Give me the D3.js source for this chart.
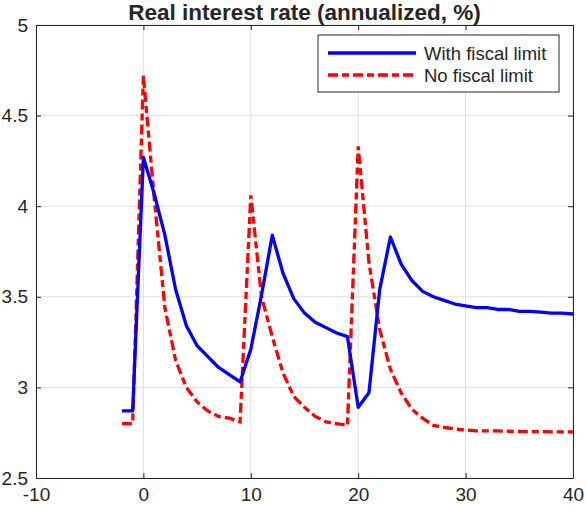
<!DOCTYPE html>
<html>
<head>
<meta charset="utf-8">
<script src="https://cdn.jsdelivr.net/npm/d3@7"></script>
<style>
  body { margin: 0; background: #fff; }
  text { font-family: "Liberation Sans", Arial, sans-serif; fill: #262626; }
</style>
</head>
<body>
<script>
// data
var periods = d3.range(-2, 41);     // -2 .. 40
var withLimit = [2.87, 2.87, 4.27, 4.07, 3.84, 3.54, 3.34, 3.23, 3.17, 3.11, 3.07, 3.03,
  3.21, 3.51, 3.84, 3.63, 3.49, 3.41, 3.36, 3.33, 3.30, 3.28,
  2.89, 2.97, 3.54, 3.83, 3.68, 3.59, 3.53, 3.50, 3.48, 3.46, 3.45,
  3.44, 3.44, 3.43, 3.43, 3.42, 3.42, 3.415, 3.41, 3.41, 3.405];
var noLimit = [2.80, 2.80, 4.72, 4.05, 3.44, 3.15, 3.00, 2.92, 2.87, 2.84, 2.83, 2.81,
  4.06, 3.50, 3.28, 3.08, 2.95, 2.89, 2.84, 2.81, 2.80, 2.79,
  4.33, 3.69, 3.32, 3.10, 2.97, 2.88, 2.83, 2.79, 2.78, 2.77, 2.765,
  2.76, 2.76, 2.76, 2.758, 2.757, 2.756, 2.756, 2.755, 2.755, 2.755];
var xTicks = [-10, 0, 10, 20, 30, 40];
var yTicks = [2.5, 3, 3.5, 4, 4.5, 5];
var seriesNames = ["With fiscal limit", "No fiscal limit"];

var outerWidth = 586, outerHeight = 505;
var margin = { top: 25, right: 13, bottom: 27, left: 36 };
var width = outerWidth - margin.left - margin.right,
  height = outerHeight - margin.top - margin.bottom;

var x = d3.scaleLinear().domain([-10, 40]).range([0, width]);
var y = d3.scaleLinear().domain([2.5, 5]).range([height, 0]);

var svg = d3.select("body").append("svg")
  .attr("width", outerWidth)
  .attr("height", outerHeight);

var g = svg.append("g")
  .attr("transform", "translate(" + margin.left + "," + margin.top + ")");

// grid
g.selectAll(".gx").data(xTicks).enter().append("line")
  .attr("x1", d => x(d)).attr("x2", d => x(d))
  .attr("y1", 0).attr("y2", height)
  .style("stroke", "#dedede").style("stroke-width", 1);
g.selectAll(".gy").data(yTicks).enter().append("line")
  .attr("x1", 0).attr("x2", width)
  .attr("y1", d => y(d)).attr("y2", d => y(d))
  .style("stroke", "#dedede").style("stroke-width", 1);

// data lines
var line = d3.line()
  .x((d, i) => x(periods[i]))
  .y(d => y(d));

var redDash = "10,4,7,4";

g.append("path").datum(noLimit)
  .attr("d", line)
  .style("fill", "none").style("stroke", "#ff0000")
  .style("stroke-width", 3.3)
  .style("stroke-dasharray", redDash);

g.append("path").datum(withLimit)
  .attr("d", line)
  .style("fill", "none").style("stroke", "#0000ff")
  .style("stroke-width", 3.3)
  .style("stroke-linejoin", "round");

// axes box with inward ticks
var tk = 5;
var fmt = d => String(d);   // plain hyphen for negatives, as in the picture
var bottomAxis = d3.axisBottom(x).tickValues(xTicks).tickSizeInner(-tk).tickSizeOuter(0).tickPadding(10).tickFormat(fmt);
var leftAxis = d3.axisLeft(y).tickValues(yTicks).tickSizeInner(-tk).tickSizeOuter(0).tickPadding(8).tickFormat(fmt);

var ax = g.append("g").attr("transform", "translate(0," + height + ")").call(bottomAxis);
var ay = g.append("g").call(leftAxis);
g.append("g").call(d3.axisTop(x).tickValues(xTicks).tickSizeInner(-tk).tickSizeOuter(0).tickFormat(""));
g.append("g").attr("transform", "translate(" + width + ",0)")
  .call(d3.axisRight(y).tickValues(yTicks).tickSizeInner(-tk).tickSizeOuter(0).tickFormat(""));

g.selectAll(".domain").style("stroke", "#262626").style("stroke-width", 1);
g.selectAll(".tick line").style("stroke", "#262626");
ax.selectAll("text").style("font-size", "19px").style("fill", "#262626");
ay.selectAll("text").style("font-size", "19px").style("fill", "#262626");

// title
svg.append("text")
  .attr("x", margin.left + width / 2).attr("y", 20)
  .attr("text-anchor", "middle")
  .style("font-size", "22.5px").style("font-weight", "bold")
  .text("Real interest rate (annualized, %)");

// legend
var lg = svg.append("g").attr("transform", "translate(318,35)");
lg.append("rect").attr("width", 241).attr("height", 57)
  .style("fill", "#fff").style("stroke", "#262626").style("stroke-width", 1);
var styles = [{ c: "#0000ff", dash: null }, { c: "#ff0000", dash: redDash }];
seriesNames.forEach(function (name, i) {
  var yy = 18 + i * 22;
  lg.append("line").attr("x1", 10).attr("x2", 98).attr("y1", yy).attr("y2", yy)
    .style("stroke", styles[i].c).style("stroke-width", 3.3)
    .style("stroke-dasharray", styles[i].dash);
  lg.append("text").attr("x", 106).attr("y", yy + 6.5)
    .style("font-size", "18.5px").text(name);
});
</script>
</body>
</html>
